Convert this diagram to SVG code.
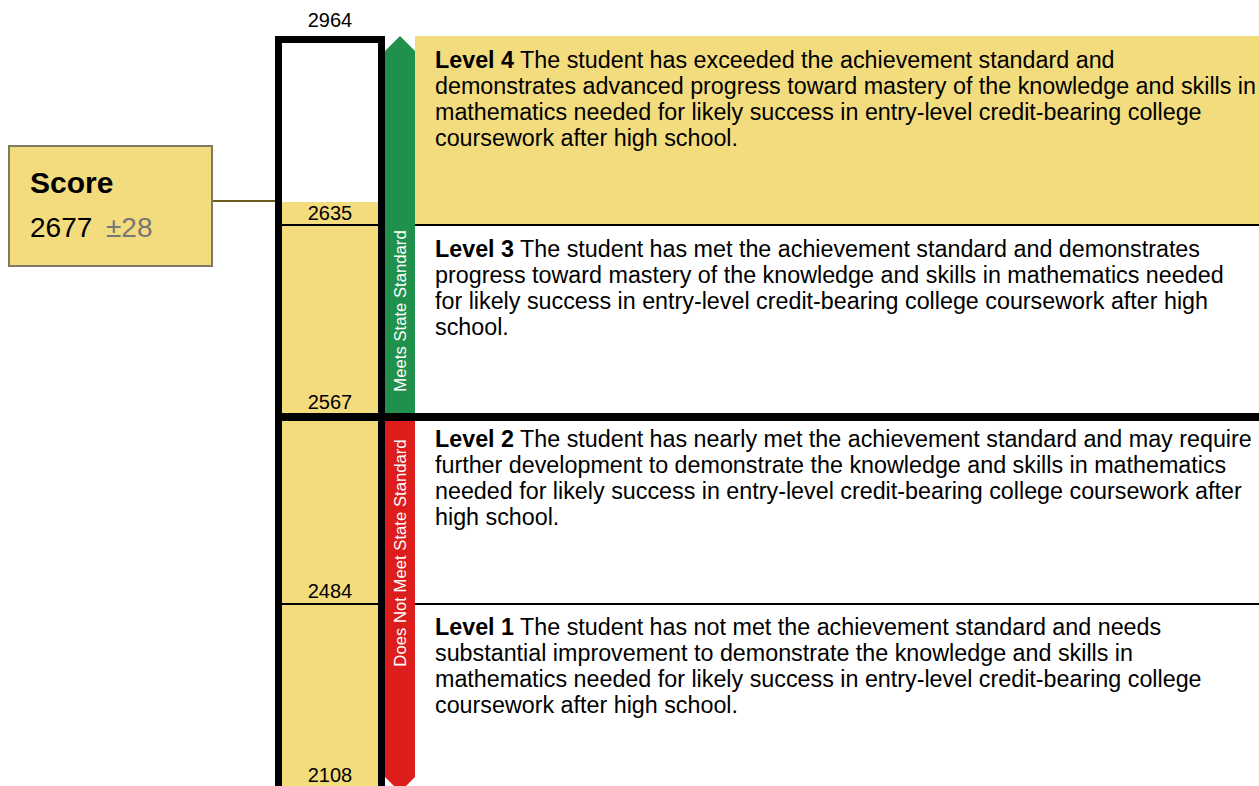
<svg xmlns="http://www.w3.org/2000/svg" width="1259" height="786" viewBox="0 0 1259 786">
<style>
text{font-family:"Liberation Sans",Arial,sans-serif;fill:#000}
.num{font-size:20px;text-anchor:middle}
.desc{font-size:23.3px}
.b{font-weight:bold}
.rot{font-size:16.7px;fill:#fff;text-anchor:middle}
</style>
<rect x="0" y="0" width="1259" height="786" fill="#fff"/>
<g id="level4-band"><rect x="415" y="36" width="844" height="189" fill="#f3dc7e"/></g>
<g id="scale-bar">
<rect x="282" y="43" width="96" height="159" fill="#fff"/>
<rect x="282" y="202" width="96" height="590" fill="#f3dc7e"/>
</g>
<g id="connectors">
<line x1="212" y1="201" x2="276" y2="201" stroke="#6e5d22" stroke-width="2"/>
<line x1="275" y1="225" x2="1259" y2="225" stroke="#000" stroke-width="2"/>
<line x1="275" y1="604" x2="1259" y2="604" stroke="#000" stroke-width="2"/>
</g>
<g id="bar-border"><rect x="278.5" y="39.5" width="103" height="770" fill="none" stroke="#000" stroke-width="7"/></g>
<g id="divider"><rect x="275" y="413" width="984" height="8" fill="#000"/></g>
<g id="meets-standard">
<polygon points="385,51 400,36 415,51 415,413 385,413" fill="#1f914d"/>
<text class="rot" transform="translate(406,311) rotate(-90)">Meets State Standard</text>
</g>
<g id="not-meet-standard">
<polygon points="385,421 415,421 415,777 400,792 385,777" fill="#dd1c1c"/>
<text class="rot" transform="translate(406,553) rotate(-90)">Does Not Meet State Standard</text>
</g>
<g id="scale-labels">
<text class="num" x="330" y="27">2964</text>
<text class="num" x="330" y="220">2635</text>
<text class="num" x="330" y="409">2567</text>
<text class="num" x="330" y="598">2484</text>
<text class="num" x="330" y="782">2108</text>
</g>
<g id="score">
<rect x="9" y="146" width="203" height="120" fill="#f3dc7e" stroke="#7f7a68" stroke-width="2"/>
<text x="30" y="193" class="b" style="font-size:30px">Score</text>
<text x="30" y="237" style="font-size:28px">2677<tspan x="106" fill="#767676">±28</tspan></text>
</g>
<g id="level4">
<text class="desc" x="435" y="68"><tspan class="b">Level 4</tspan> The student has exceeded the achievement standard and</text>
<text class="desc" x="435" y="94">demonstrates advanced progress toward mastery of the knowledge and skills in</text>
<text class="desc" x="435" y="120">mathematics needed for likely success in entry-level credit-bearing college</text>
<text class="desc" x="435" y="146">coursework after high school.</text>
</g>
<g id="level3">
<text class="desc" x="435" y="257"><tspan class="b">Level 3</tspan> The student has met the achievement standard and demonstrates</text>
<text class="desc" x="435" y="283">progress toward mastery of the knowledge and skills in mathematics needed</text>
<text class="desc" x="435" y="309">for likely success in entry-level credit-bearing college coursework after high</text>
<text class="desc" x="435" y="335">school.</text>
</g>
<g id="level2">
<text class="desc" x="435" y="447"><tspan class="b">Level 2</tspan> The student has nearly met the achievement standard and may require</text>
<text class="desc" x="435" y="473">further development to demonstrate the knowledge and skills in mathematics</text>
<text class="desc" x="435" y="499">needed for likely success in entry-level credit-bearing college coursework after</text>
<text class="desc" x="435" y="525">high school.</text>
</g>
<g id="level1">
<text class="desc" x="435" y="635"><tspan class="b">Level 1</tspan> The student has not met the achievement standard and needs</text>
<text class="desc" x="435" y="661">substantial improvement to demonstrate the knowledge and skills in</text>
<text class="desc" x="435" y="687">mathematics needed for likely success in entry-level credit-bearing college</text>
<text class="desc" x="435" y="713">coursework after high school.</text>
</g>
</svg>
